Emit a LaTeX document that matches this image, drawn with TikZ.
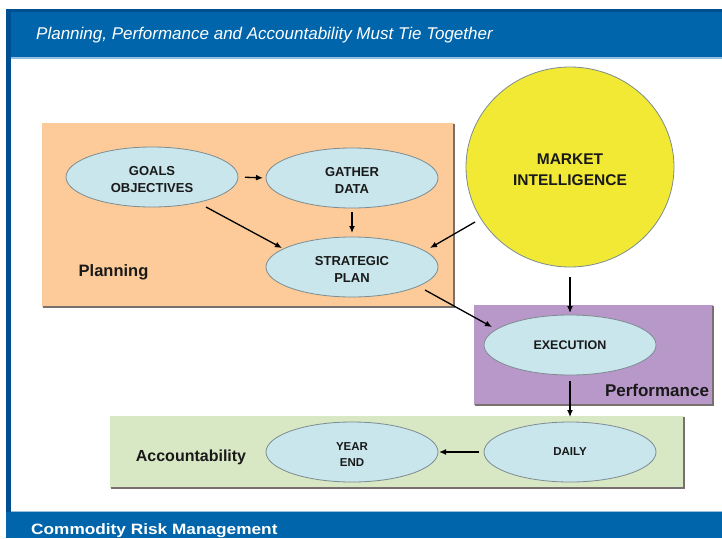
\documentclass[tikz,border=0pt]{standalone}
\usepackage{fontspec}
\setmainfont{Liberation Sans}
\newfontfamily\widefont[FakeStretch=1.15]{Liberation Sans}
\usetikzlibrary{arrows.meta,shapes.geometric,calc}
\definecolor{bandblue}{RGB}{0,101,170}
\definecolor{banddark}{RGB}{0,80,145}
\definecolor{bandlight}{RGB}{150,190,225}
\definecolor{planfill}{RGB}{252,203,153}
\definecolor{perffill}{RGB}{184,152,201}
\definecolor{accfill}{RGB}{216,231,196}
\definecolor{ovalfill}{RGB}{200,230,236}
\definecolor{ovaledge}{RGB}{125,140,145}
\definecolor{sunfill}{RGB}{242,233,52}
\definecolor{boxshadow}{RGB}{120,112,108}
\definecolor{inktext}{RGB}{25,25,25}
\newcommand\twolines[2]{\raisebox{-3.5pt}[\height][\depth]{\begin{tabular}{@{}c@{}}#1\\#2\end{tabular}}}
\tikzset{
  oval/.style={ellipse, fill=ovalfill, draw=ovaledge, line width=0.8pt,
    minimum width=172pt, minimum height=60pt, inner sep=0pt, outer sep=0pt,
    align=center, text=inktext, font=\bfseries\fontsize{13}{17}\selectfont},
  smalloval/.style={oval, font=\bfseries\fontsize{11.5}{16}\selectfont},
  grouplabel/.style={text=inktext, font=\bfseries\fontsize{16.5}{20}\selectfont, inner sep=0pt},
  flow/.style={-{Latex[length=7pt,width=6pt]}, line width=1.3pt, black},
  boxedge/.style={draw=boxshadow, line width=1.2pt},
}
\begin{document}
\begin{tikzpicture}[x=1pt,y=-1pt]
\useasboundingbox (0,0) rectangle (722,538);
\fill[white] (0,0) rectangle (722,538);
% frame
\fill[bandblue] (6,9) rectangle (722,57);
\fill[banddark] (6,9) rectangle (722,12);
\fill[bandlight] (10,57) rectangle (722,58.5);
\fill[banddark] (6,9) rectangle (10.5,512);
\fill[bandlight] (10.5,510.5) rectangle (722,512);
\fill[bandblue] (6,512) rectangle (722,538);
\node[anchor=base west, text=white, inner sep=0pt, font=\itshape\fontsize{17}{20}\selectfont] (title) at (36,39) {Planning, Performance and Accountability Must Tie Together};
\node[anchor=base west, text=white, inner sep=0pt, font=\widefont\bfseries\fontsize{15}{18}\selectfont] (footer) at (31,534) {Commodity Risk Management};
% group boxes
\fill[planfill] (42,123) rectangle (454,307);
\path[boxedge] (454,124) -- (454,307) -- (43,307);
\fill[perffill] (474,305) rectangle (713,405);
\path[boxedge] (713,306) -- (713,405) -- (475,405);
\fill[accfill] (110,416) rectangle (684,488);
\path[boxedge] (684,417) -- (684,488) -- (111,488);
% labels
\node[grouplabel] (lplan) at (113.5,272) {Planning};
\node[grouplabel, font=\bfseries\fontsize{16}{20}\selectfont] (lacc) at (191,457) {Accountability};
\node[grouplabel, font=\bfseries\fontsize{17}{20}\selectfont] (lperf) at (657,390) {Performance};
% nodes
\node[ellipse, fill=sunfill, draw=ovaledge, line width=0.8pt, minimum width=208pt, minimum height=200pt,
  inner sep=0pt, outer sep=0pt, align=center, text=inktext,
  font=\bfseries\fontsize{15.5}{21}\selectfont] (market) at (570,167) {\twolines{MARKET}{INTELLIGENCE}};
\node[oval] (goals) at (152,177) {\twolines{GOALS}{OBJECTIVES}};
\node[oval] (gather) at (352,178) {\twolines{GATHER}{DATA}};
\node[oval] (strat) at (352,267) {\twolines{STRATEGIC}{PLAN}};
\node[oval, font=\bfseries\fontsize{12.5}{16}\selectfont] (exec) at (570,345) {EXECUTION};
\node[smalloval] (daily) at (570,452) {DAILY};
\node[smalloval] (year) at (352,452) {\twolines{YEAR}{END}};
% connectors
\draw[flow, shorten <=7pt, shorten >=3pt] (goals.east) -- (gather.west);
\draw[flow, shorten <=4pt, shorten >=4pt] (gather.south) -- (strat.north);
\draw[flow] ([shift={(54,30)}]goals.center) -- ([shift={(-70,-19)}]strat.center);
\draw[flow] ([shift={(-95,55)}]market.center) -- ([shift={(78,-19)}]strat.center);
\draw[flow] ([shift={(73,23)}]strat.center) -- ([shift={(-78,-18)}]exec.center);
\draw[flow, shorten <=10pt, shorten >=2pt] (market.south) -- (exec.north);
\draw[flow, shorten <=6pt, shorten >=5pt] (exec.south) -- (daily.north);
\draw[flow, shorten <=5pt, shorten >=1pt] (daily.west) -- (year.east);
\end{tikzpicture}
\end{document}
